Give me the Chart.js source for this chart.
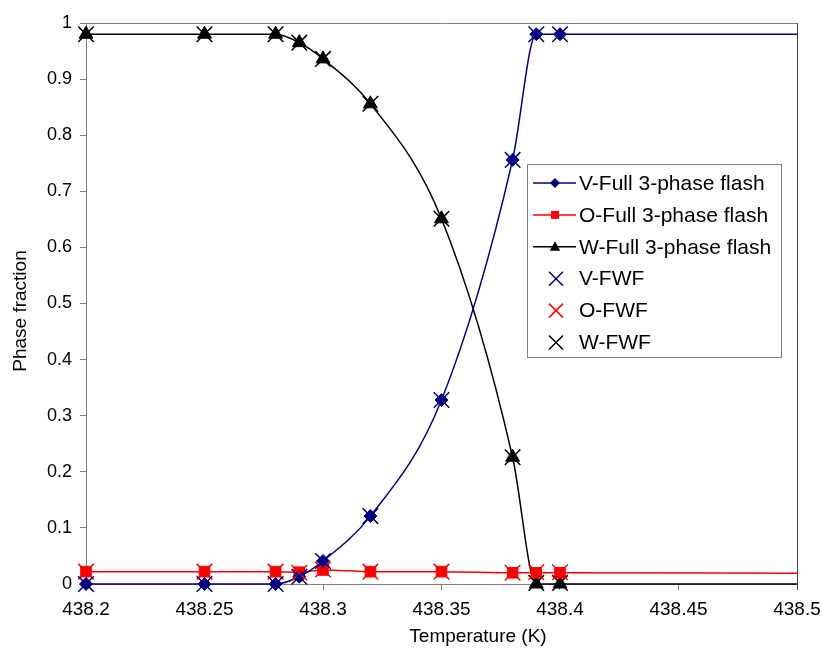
<!DOCTYPE html>
<html>
  <head>
    <script src="https://cdn.jsdelivr.net/npm/chart.js"></script>
    <style>
      body { margin: 0; background: #fff; }
    </style>
  </head>

  <body>
    <div style="width: 822px; height: 648px;">
      <canvas id="canvas" width="822" height="648"></canvas>
    </div>
    <script>
      // full 3-phase flash (last point only carries the line on to the frame)
      const temps = [438.2, 438.25, 438.28, 438.29, 438.3, 438.32, 438.35, 438.38, 438.39, 438.4, 438.5];
      const vFull = [0, 0, 0, 0.013, 0.041, 0.121, 0.328, 0.756, 0.98, 0.98, 0.98];
      const oFull = [0.022, 0.022, 0.022, 0.021, 0.025, 0.022, 0.022, 0.02, 0.02, 0.02, 0.019];
      const wFull = [0.98, 0.98, 0.98, 0.965, 0.936, 0.856, 0.651, 0.226, 0, 0, 0];

      // FWF
      const fwfTemps = [438.2, 438.25, 438.28, 438.29, 438.3, 438.32, 438.35, 438.38, 438.39, 438.4];
      const vFwf = [0, 0, 0, 0.013, 0.041, 0.121, 0.328, 0.756, 0.98, 0.98];
      const oFwf = [0.022, 0.022, 0.022, 0.02, 0.026, 0.022, 0.022, 0.02, 0.021, 0.021];
      const wFwf = [0.98, 0.98, 0.98, 0.965, 0.936, 0.856, 0.651, 0.226, 0.002, 0.002];

      const NAVY = '#000080';
      const RED = '#ff0000';
      const BLACK = '#000000';
      const FONT = "'Liberation Sans', Arial, sans-serif";

      const pts = (xs, ys) => xs.map((x, i) => ({ x: x, y: ys[i] }));
      const lastHidden = (r) => (ctx) => (ctx.dataIndex === temps.length - 1 ? 0 : r);

      function lineSet(label, ys, color, style, r) {
        return {
          label: label,
          data: pts(temps, ys),
          showLine: true,
          borderColor: color,
          backgroundColor: color,
          borderWidth: 1.5,
          cubicInterpolationMode: 'monotone',
          pointStyle: style,
          pointRadius: lastHidden(r),
          pointHoverRadius: lastHidden(r),
          pointBorderWidth: 1,
          clip: false,
          order: 2,
        };
      }

      function crossSet(label, ys, color) {
        return {
          label: label,
          data: pts(fwfTemps, ys),
          showLine: false,
          borderColor: color,
          backgroundColor: color,
          pointStyle: 'crossRot',
          pointRadius: 11,
          pointHoverRadius: 11,
          pointBorderWidth: 1.5,
          clip: false,
          order: 1,
        };
      }

      // tiny marker painter for the legend
      function marker(ctx, style, x, y, r, color) {
        ctx.save();
        ctx.fillStyle = color;
        ctx.strokeStyle = color;
        ctx.lineWidth = 1.5;
        ctx.beginPath();
        if (style === 'rectRot') {
          ctx.moveTo(x - r, y); ctx.lineTo(x, y - r); ctx.lineTo(x + r, y); ctx.lineTo(x, y + r);
          ctx.closePath(); ctx.fill();
        } else if (style === 'rect') {
          ctx.rect(x - r, y - r, 2 * r, 2 * r); ctx.fill();
        } else if (style === 'triangle') {
          ctx.moveTo(x, y - r); ctx.lineTo(x + r * 0.95, y + r * 0.7); ctx.lineTo(x - r * 0.95, y + r * 0.7);
          ctx.closePath(); ctx.fill();
        } else {
          ctx.moveTo(x - r, y - r); ctx.lineTo(x + r, y + r);
          ctx.moveTo(x + r, y - r); ctx.lineTo(x - r, y + r);
          ctx.stroke();
        }
        ctx.restore();
      }

      const legendItems = [
        { text: 'V-Full 3-phase flash', color: NAVY, style: 'rectRot', r: 5, line: true },
        { text: 'O-Full 3-phase flash', color: RED, style: 'rect', r: 4, line: true },
        { text: 'W-Full 3-phase flash', color: BLACK, style: 'triangle', r: 5.5, line: true },
        { text: 'V-FWF', color: NAVY, style: 'cross', r: 7, line: false },
        { text: 'O-FWF', color: RED, style: 'cross', r: 7, line: false },
        { text: 'W-FWF', color: BLACK, style: 'cross', r: 7, line: false },
      ];

      const decorations = {
        id: 'decorations',
        afterDraw(chart) {
          const ctx = chart.ctx;
          const a = chart.chartArea;
          ctx.save();
          // frame top and right
          ctx.strokeStyle = '#808080';
          ctx.lineWidth = 1;
          ctx.beginPath();
          ctx.moveTo(a.left, a.top + 0.5);
          ctx.lineTo(a.right, a.top + 0.5);
          ctx.stroke();
          ctx.strokeStyle = '#404040';
          ctx.beginPath();
          ctx.moveTo(a.right + 0.5, a.top);
          ctx.lineTo(a.right + 0.5, a.bottom + 6);
          ctx.stroke();

          // axis titles
          ctx.fillStyle = '#000';
          ctx.font = '19px ' + FONT;
          ctx.textAlign = 'center';
          ctx.textBaseline = 'middle';
          ctx.fillText('Temperature (K)', 478, 637);
          ctx.translate(21, 311);
          ctx.rotate(-Math.PI / 2);
          ctx.fillText('Phase fraction', 0, 0);
          ctx.restore();

          // legend box
          ctx.save();
          ctx.fillStyle = '#fff';
          ctx.fillRect(527, 164, 254, 193);
          ctx.strokeStyle = '#808080';
          ctx.lineWidth = 1;
          ctx.strokeRect(527.5, 164.5, 254, 193);
          ctx.font = '21px ' + FONT;
          ctx.textAlign = 'left';
          ctx.textBaseline = 'middle';
          legendItems.forEach((it, i) => {
            const y = 183 + i * 31.9;
            if (it.line) {
              ctx.strokeStyle = it.color;
              ctx.lineWidth = 1.5;
              ctx.beginPath();
              ctx.moveTo(533, y);
              ctx.lineTo(576, y);
              ctx.stroke();
              marker(ctx, it.style, 555, y, it.r, it.color);
            } else {
              marker(ctx, it.style, 556, y, it.r, it.color);
            }
            ctx.fillStyle = '#000';
            ctx.fillText(it.text, 579, y + 1);
          });
          ctx.restore();
        },
      };

      new Chart(document.getElementById('canvas').getContext('2d'), {
        type: 'scatter',
        data: {
          datasets: [
            lineSet('V-Full 3-phase flash', vFull, NAVY, 'rectRot', 6.5),
            lineSet('O-Full 3-phase flash', oFull, RED, 'rect', 7.5),
            lineSet('W-Full 3-phase flash', wFull, BLACK, 'triangle', 8),
            crossSet('V-FWF', vFwf, NAVY),
            crossSet('O-FWF', oFwf, RED),
            crossSet('W-FWF', wFwf, BLACK),
          ],
        },
        options: {
          responsive: false,
          animation: false,
          layout: {
            padding: { top: 23, right: 25, left: 0, bottom: 0 },
          },
          plugins: {
            legend: { display: false },
            tooltip: { enabled: false },
          },
          scales: {
            x: {
              type: 'linear',
              min: 438.2,
              max: 438.5,
              afterFit: (s) => {
                s.height = 64;
                s.paddingLeft = 0;
                s.paddingRight = 0;
              },
              ticks: {
                stepSize: 0.05,
                color: '#000',
                font: { family: FONT, size: 19 },
                padding: 8,
                maxRotation: 0,
                callback: (v) => String(+v.toFixed(2)),
              },
              grid: {
                drawOnChartArea: false,
                drawTicks: true,
                tickLength: 6,
                color: '#808080',
              },
              border: { color: '#808080', width: 1 },
            },
            y: {
              min: 0,
              max: 1,
              afterFit: (s) => { s.width = 86; },
              ticks: {
                stepSize: 0.1,
                color: '#000',
                font: { family: FONT, size: 18 },
                padding: 8,
                callback: (v) => String(+v.toFixed(1)),
              },
              grid: {
                drawOnChartArea: false,
                drawTicks: true,
                tickLength: 6,
                color: '#808080',
              },
              border: { color: '#808080', width: 1 },
            },
          },
        },
        plugins: [decorations],
      });
    </script>
  </body>
</html>
